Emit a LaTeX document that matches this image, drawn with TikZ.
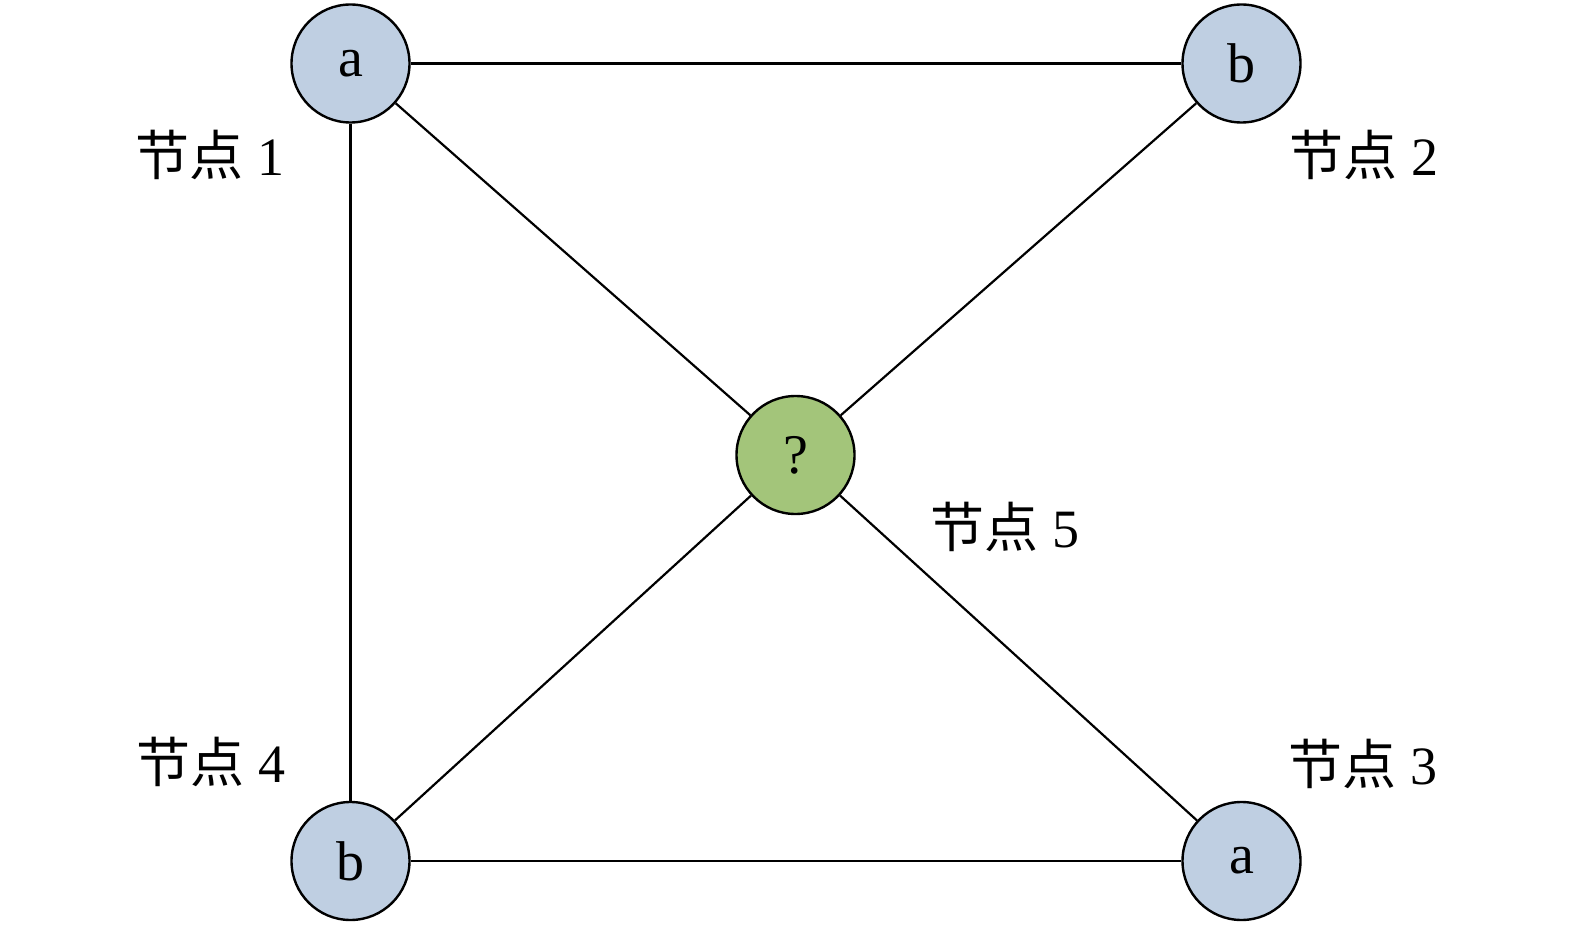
\documentclass[tikz,border=0pt]{standalone}
\usepackage{fontspec}
\setmainfont{Liberation Serif}
\newfontfamily\cjk{Noto Sans CJK SC}
\definecolor{nodeblue}{HTML}{BFCFE2}
\definecolor{nodegreen}{HTML}{A3C57A}
\begin{document}
\begin{tikzpicture}[x=0.5pt,y=-0.5pt,
  vtx/.style={circle,draw=black,line width=1.2pt,minimum size=59pt,inner sep=0pt,font=\fontsize{28}{28}\selectfont},
  bluev/.style={vtx,fill=nodeblue},
  greenv/.style={vtx,fill=nodegreen},
  lab/.style={font=\fontsize{27}{27}\selectfont,inner sep=0pt},
  edge/.style={line width=1.1pt,draw=black}]
\useasboundingbox (0,0) rectangle (1575,925);
\node[bluev] (n1) at (350.5,63.5) {a};
\node[bluev] (n2) at (1241.5,63.5) {b};
\node[greenv] (n5) at (795.5,455) {?};
\node[bluev] (n4) at (350.5,861) {b};
\node[bluev] (n3) at (1241.5,861) {a};
\draw[edge] (n1) -- (n2);
\draw[edge] (n1) -- (n5);
\draw[edge] (n1) -- (n4);
\draw[edge] (n2) -- (n5);
\draw[edge] (n5) -- (n4);
\draw[edge] (n5) -- (n3);
\draw[edge] (n4) -- (n3);
\node[lab] (l1) at (210,155) {{\cjk 节点}\hspace{0.02em} 1};
\node[lab] (l2) at (1364,155) {{\cjk 节点}\hspace{0.02em} 2};
\node[lab] (l5) at (1005,527) {{\cjk 节点}\hspace{0.02em} 5};
\node[lab] (l4) at (211,762) {{\cjk 节点}\hspace{0.02em} 4};
\node[lab] (l3) at (1363,764) {{\cjk 节点}\hspace{0.02em} 3};
\end{tikzpicture}
\end{document}
